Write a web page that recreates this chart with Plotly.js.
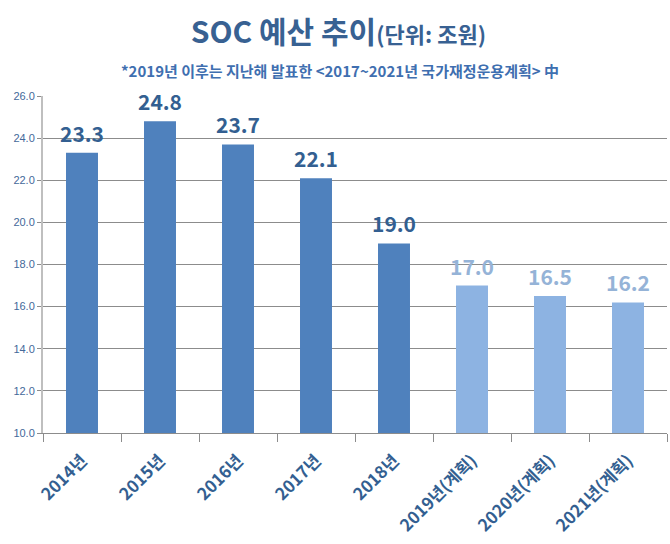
<!DOCTYPE html>
<html><head><meta charset="utf-8">
<script src="https://cdn.plot.ly/plotly-3.0.1.min.js"></script>
<style>body{margin:0;background:#fff}#c{width:670px;height:544px}</style>
</head><body><div id="c"></div>
<script>
const categories = ["2014년","2015년","2016년","2017년","2018년","2019년(계획)","2020년(계획)","2021년(계획)"];
const values = [23.3, 24.8, 23.7, 22.1, 19.0, 17.0, 16.5, 16.2];
const planned = [false, false, false, false, false, true, true, true];
const yTicks = [10,12,14,16,18,20,22,24,26];

const barColors = planned.map(p => p ? "#8db3e2" : "#4f81bd");
const textColors = planned.map(p => p ? "#95b3d7" : "#335f91");
const font = "'Noto Sans CJK KR', 'Noto Sans', sans-serif";

const trace = {
  type: "bar", x: categories, y: values,
  marker: {color: barColors},
  hoverinfo: "none"
};

const valueLabels = categories.map((c, i) => ({
  x: c, y: values[i], xref: "x", yref: "y",
  text: "<b>" + values[i].toFixed(1) + "</b>",
  showarrow: false, xanchor: "center", yanchor: "bottom", yshift: 3,
  font: {family: font, size: 21, color: textColors[i]}
}));

const layout = {
  width: 670, height: 544,
  margin: {l: 43, r: 3, t: 96, b: 111},
  paper_bgcolor: "#fff", plot_bgcolor: "#fff",
  bargap: 0.59,
  showlegend: false,
  title: {
    text: "<b>SOC 예산 추이<span style='font-size:22px'>(단위: 조원)</span></b>",
    font: {family: font, size: 30, color: "#386192"},
    x: 0.505, xanchor: "center", y: 0.94, yanchor: "middle"
  },
  annotations: [{
    text: "<b>*2019년 이후는 지난해 발표한 &lt;2017~2021년 국가재정운용계획&gt; 中</b>",
    xref: "paper", yref: "paper", x: 0.476, y: 1.077, xanchor: "center", yanchor: "middle",
    showarrow: false, font: {family: font, size: 15, color: "#3f6fb0"}
  }].concat(valueLabels),
  xaxis: {
    type: "category",
    showline: true, linecolor: "#8c8c8c", linewidth: 1,
    ticks: "outside", tickson: "boundaries", ticklen: 8, tickcolor: "#8c8c8c",
    tickangle: -45, ticklabelstandoff: 10,
    tickfont: {family: font, size: 17, color: "#335f91", weight: "bold"},
    showgrid: false
  },
  yaxis: {
    range: [10, 26], tickvals: yTicks, ticktext: yTicks.map(v => v.toFixed(1)),
    showgrid: true, gridcolor: "#8c8c8c", gridwidth: 1,
    showline: true, linecolor: "#bfbfbf", linewidth: 2,
    ticks: "outside", ticklen: 4, tickcolor: "#8c8c8c",
    tickfont: {family: "'Liberation Sans', Arial, sans-serif", size: 11, color: "#44699a"},
    zeroline: false
  }
};

Plotly.newPlot("c", [trace], layout, {displayModeBar: false, staticPlot: true});
</script></body></html>
